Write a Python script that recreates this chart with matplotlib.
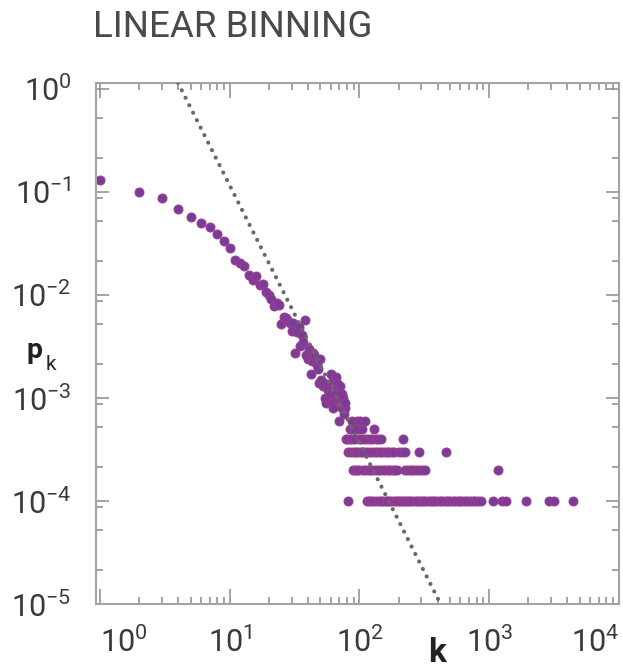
import matplotlib
matplotlib.use("Agg")
import matplotlib.pyplot as plt
import numpy as np
from matplotlib.ticker import FixedLocator, LogLocator, FuncFormatter, NullFormatter

plt.rcParams['font.family'] = ['Roboto', 'DejaVu Sans']
plt.rcParams['mathtext.default'] = 'regular'

# ---------------- data ----------------
N_nodes = 10000
# degree k and number of nodes with that degree (linear binning, bin width 1)
k_main = list(range(1, 79))
n_main = [1300, 1000, 863, 675, 572, 500, 457, 388, 332, 282,
          217, 204, 192, 156, 139, 152, 124, 128, 106, 100,
          92, 78, 84, 80, 52, 61, 59, 56, 53, 45,
          53, 27, 44, 49, 32, 41, 35, 57, 26, 24,
          30, 17, 23, 27, 26, 23, 21, 19, 14, 24,
          15, 13, 14, 10, 9, 13, 12, 10, 11, 17,
          9, 15, 8, 12, 11, 16, 14, 10, 6, 11,
          13, 9, 11, 8, 10, 7, 8, 9]
# tail: degrees observed with small counts
k_count6 = [87, 95, 101, 110]
k_count5 = [85, 91, 97, 105, 129]
k_count4 = [79, 80, 84, 88, 93, 99, 102, 108, 114, 120, 126, 133, 140, 147, 218]
k_count3 = [81, 86, 90, 94, 98, 103, 107, 112, 118, 124, 131, 137, 143, 150,
            156, 162, 169, 177, 185, 200, 212, 224, 287, 463]
k_count2 = [89, 92, 96, 100, 106, 111, 116, 121, 125, 132, 138, 145, 151, 158,
            165, 172, 180, 188, 195, 226, 236, 248, 260, 272, 290, 305, 320, 1170]
k_count1 = [82, 115, 119, 123, 127, 134, 141, 146, 153, 159, 163, 170, 176, 183,
            190, 197, 205, 213, 221, 230, 238, 247, 256, 266, 276, 288, 298, 310,
            322, 335, 348, 362, 377, 392, 408, 425, 443, 462, 480, 500, 522, 545,
            570, 596, 622, 650, 680, 712, 745, 780, 820, 865,
            1065, 1250, 1340, 1920, 2900, 3130, 4440]

# power-law guide line p_k ~ A k^-gamma
gamma = 2.5
A = 36.5
line_k = [4.0, 420.0]

# ---------------- assemble ----------------
ks = list(k_main)
ns = list(n_main)
for c, lst in [(6, k_count6), (5, k_count5), (4, k_count4),
               (3, k_count3), (2, k_count2), (1, k_count1)]:
    ks += lst
    ns += [c] * len(lst)
ks = np.array(ks, float)
pk = np.array(ns, float) / N_nodes

# ---------------- figure ----------------
W, H = 623, 669
fig = plt.figure(figsize=(W / 100, H / 100), dpi=100)
L, R, T, B = 96, 619, 82.7, 604
ax = fig.add_axes([L / W, 1 - B / H, (R - L) / W, (B - T) / H])
ax.set_xscale('log')
ax.set_yscale('log')
ax.set_xlim(10 ** -0.03, 1e4)
ax.set_ylim(1e-5, 10 ** 0.058)

ax.scatter(ks, pk, s=42, facecolor='#7b3c99', edgecolor='#9c3c8e',
           linewidths=0.7, zorder=2, clip_on=False)

lk = np.array(line_k)
ax.plot(lk, A * lk ** (-gamma), color='#686868', lw=3.0,
        linestyle=(0, (0.01, 2.0)), dash_capstyle='round', zorder=3)

spine_c = '#a3a3a3'
for s in ax.spines.values():
    s.set_color(spine_c)
    s.set_linewidth(1.5)

# ticks
ax.xaxis.set_major_locator(FixedLocator([1, 10, 100, 1000, 10000]))
ax.xaxis.set_minor_locator(LogLocator(base=10, subs=np.arange(2, 10)))
ax.yaxis.set_major_locator(FixedLocator([1, 1e-1, 1e-2, 1e-3, 1e-4, 1e-5]))
yminor = []
for n in range(0, -5, -1):
    for f in [0.06, 0.28, 0.67]:
        if n == 0 and f == 0.06:
            continue
        yminor.append(10 ** (n - f))
ax.yaxis.set_minor_locator(FixedLocator(yminor))
ax.xaxis.set_minor_formatter(NullFormatter())
ax.yaxis.set_minor_formatter(NullFormatter())
fmt = FuncFormatter(lambda v, p: r'$\mathregular{10^{%d}}$' % int(round(np.log10(v))))
ax.xaxis.set_major_formatter(fmt)
ax.yaxis.set_major_formatter(fmt)

ax.tick_params(which='both', direction='in', top=True, right=True,
               color='#8a8a8a', width=1.1)
ax.tick_params(axis='x', which='major', length=10.8, pad=16)
ax.tick_params(axis='y', which='major', length=9.4, pad=18)
ax.tick_params(which='minor', length=5)
ax.tick_params(labelsize=22, labelcolor='#3a3a3a')

xl = ax.get_xticklabels()
xl[0].set_ha('left')
xl[-1].set_ha('right')

# titles / labels
fig.text(93 / W, 1 - 37 / H, 'LINEAR BINNING', fontsize=26.5, color='#4a4a4a',
         ha='left', va='baseline')
fig.text(27 / W, 1 - 358 / H, 'p', fontsize=20.5, fontweight='bold',
         color='#222222', ha='left', va='baseline')
fig.text(46 / W, 1 - 370 / H, 'k', fontsize=15, color='#222222',
         ha='left', va='baseline')
fig.text(428 / W, 1 - 662 / H, 'k', fontsize=24, fontweight='bold',
         color='#222222', ha='left', va='baseline')

fig.savefig('out.png', dpi=100)
